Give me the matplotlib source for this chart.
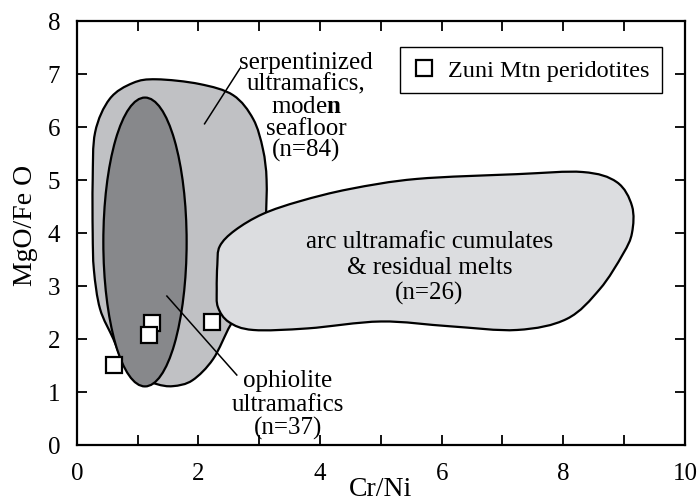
import numpy as np
import matplotlib
matplotlib.use("Agg")
import matplotlib.pyplot as plt
from matplotlib.path import Path
from matplotlib.patches import PathPatch, Ellipse

plt.rcParams["font.family"] = ["Liberation Serif", "DejaVu Serif"]
plt.rcParams["mathtext.fontset"] = "custom"
plt.rcParams["mathtext.rm"] = "Liberation Serif"
plt.rcParams["mathtext.bf"] = "Liberation Serif:bold"

# Zuni Mtn peridotites
ZUNI_CR_NI = [0.61, 1.23, 1.19, 2.23]
ZUNI_MGO_FEO = [1.51, 2.30, 2.08, 2.32]

# field outlines (control points, Cr/Ni vs MgO/FeO)
SERP_X = [1.31, 2.02, 2.57, 2.90, 3.06, 3.12, 3.10, 3.00, 2.70, 2.52, 2.24, 1.90,
          1.58, 1.31, 1.00, 0.75, 0.60, 0.38, 0.28, 0.26, 0.26, 0.30, 0.54, 0.92]
SERP_Y = [6.90, 6.81, 6.60, 6.15, 5.58, 5.00, 4.20, 3.20, 2.50, 2.25, 1.62, 1.22,
          1.11, 1.15, 1.30, 1.60, 2.00, 2.57, 3.30, 4.00, 5.00, 5.90, 6.53, 6.83]

OPH_CENTER = (1.12, 3.83)
OPH_WIDTH = 1.37
OPH_HEIGHT = 5.45

ARC_X = [2.35, 2.60, 3.06, 3.67, 4.49, 5.59, 7.24, 8.32, 8.88, 9.13, 9.13, 8.98,
         8.60, 8.06, 7.24, 6.13, 5.00, 3.80, 2.90, 2.50, 2.32, 2.30, 2.31]
ARC_Y = [3.75, 4.05, 4.36, 4.60, 4.83, 5.02, 5.11, 5.15, 4.96, 4.51, 4.00, 3.60,
         2.94, 2.38, 2.17, 2.24, 2.33, 2.20, 2.17, 2.32, 2.60, 2.94, 3.40]


def smooth_closed(xs, ys):
    # closed Catmull-Rom outline handed to matplotlib as cubic Bezier segments
    P = np.column_stack([xs, ys])
    n = len(P)
    verts = [P[0]]
    codes = [Path.MOVETO]
    for i in range(n):
        p0, p1, p2, p3 = P[i - 1], P[i], P[(i + 1) % n], P[(i + 2) % n]
        verts += [p1 + (p2 - p0) / 6.0, p2 - (p3 - p1) / 6.0, p2]
        codes += [Path.CURVE4] * 3
    verts.append(P[0])
    codes.append(Path.CLOSEPOLY)
    return Path(verts, codes)


fig = plt.figure(figsize=(6.99, 5.02), dpi=100)
ax = fig.add_axes([0.110, 0.1116, 0.8698, 0.8446])

ax.add_patch(PathPatch(smooth_closed(SERP_X, SERP_Y), facecolor="#c0c1c4",
                       edgecolor="black", lw=1.6, zorder=2))
ax.add_patch(Ellipse(OPH_CENTER, OPH_WIDTH, OPH_HEIGHT, facecolor="#87888b",
                     edgecolor="black", lw=1.6, zorder=3))
ax.add_patch(PathPatch(smooth_closed(ARC_X, ARC_Y), facecolor="#dcdde0",
                       edgecolor="black", lw=1.6, zorder=4))

# leader lines
ax.plot([2.68, 2.10], [7.10, 6.06], color="black", lw=1.1, zorder=5)
ax.plot([1.48, 2.63], [2.81, 1.32], color="black", lw=1.1, zorder=5)

ax.plot(ZUNI_CR_NI, ZUNI_MGO_FEO, ls="none", marker="s", ms=11.5, mew=1.6,
        mfc="white", mec="black", zorder=6, label="Zuni Mtn peridotites")

fs = 18
serp_lines = ["serpentinized", "ultramafics,", r"mode$\mathbf{n}$", "seafloor", "(n=84)"]
for k, s in enumerate(serp_lines):
    ax.text(3.77, 7.23 - 0.415 * k, s, ha="center", va="center", fontsize=fs, zorder=7)

arc_lines = ["arc ultramafic cumulates", "& residual melts", "(n=26)"]
for k, s in enumerate(arc_lines):
    ax.text(5.80, 3.85 - 0.49 * k, s, ha="center", va="center", fontsize=fs, zorder=7)

oph_lines = ["ophiolite", "ultramafics", "(n=37)"]
for k, s in enumerate(oph_lines):
    ax.text(3.47, 1.22 - 0.44 * k, s, ha="center", va="center", fontsize=fs, zorder=7)

ax.set_xlim(0, 10)
ax.set_ylim(0, 8)
ax.set_xticks([0, 2, 4, 6, 8, 10])
ax.set_xticks([1, 3, 5, 7, 9], minor=True)
ax.set_yticks(range(0, 9))
ax.tick_params(which="both", direction="in", top=True, right=True,
               length=7, width=1.3, labelsize=18, pad=12)
for sp in ax.spines.values():
    sp.set_linewidth(1.6)

ax.set_xlabel("Cr/Ni", fontsize=20)
ax.xaxis.label.set_va("bottom")
ax.xaxis.set_label_coords(0.5, -0.133)
ax.set_ylabel("MgO/Fe O", fontsize=20)
ax.yaxis.set_label_coords(-0.064, 0.52)

leg = ax.legend(loc="upper right", bbox_to_anchor=(0.962, 0.939), fontsize=17.5,
                frameon=True, fancybox=False, handlelength=1.0, handletextpad=0.5,
                borderpad=0.5, borderaxespad=0, numpoints=1)
leg.get_frame().set_edgecolor("black")
leg.get_frame().set_linewidth(1.0)
leg.get_frame().set_alpha(1)

fig.savefig("out.png", dpi=100)
